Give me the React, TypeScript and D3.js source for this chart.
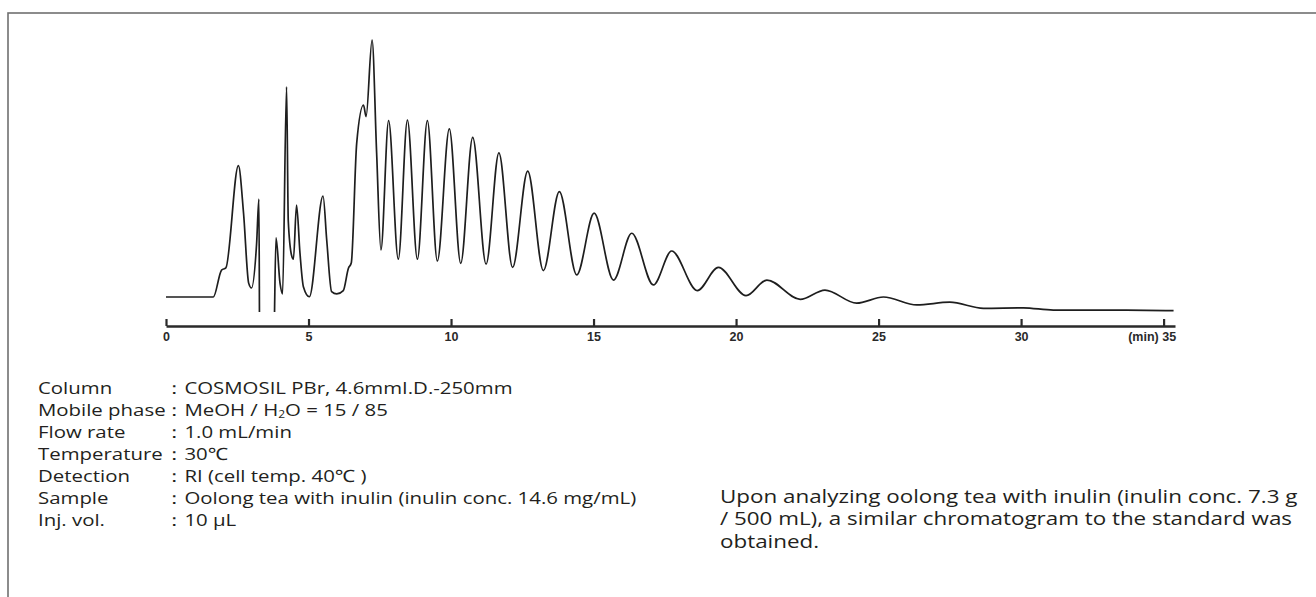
import React, { useEffect, useRef } from 'react'
import * as d3 from 'd3'

// retention time (min) and detector signal (relative units, main peak = 100)
const retentionTime = [
  0, 1.66, 1.95, 2.1, 2.54, 2.72, 2.9, 3.0, 3.18, 3.26, 3.29, 3.45, 3.65, 3.78, 3.86,
  4.0, 4.09, 4.23, 4.29, 4.41, 4.47, 4.58, 4.7, 4.82, 5.03, 5.51, 5.64, 5.81, 5.99,
  6.22, 6.4, 6.5, 6.69, 6.93, 7.02, 7.23, 7.39, 7.54,
  7.81, 8.15, 8.47, 8.82, 9.17, 9.52, 9.94, 10.34, 10.76, 11.23, 11.68, 12.16,
  12.69, 13.24, 13.8, 14.41, 15.02, 15.7, 16.34, 17.1, 17.74, 18.64, 19.38, 20.35,
  21.08, 22.25, 23.12, 24.23, 25.17, 26.34, 27.5, 28.68, 30.08, 31.13, 32.2, 33.7, 35.35,
]
const signal = [
  0, 0, 10.5, 11.3, 51.1, 32.7, 5.4, 3.5, 21.0, 38.1, -30, -30, -30, -20, 23.0,
  5.4, 1.2, 81.8, 29.6, 16.0, 14.7, 35.8, 17.1, 4.0, 0.1, 39.3, 22, 2.1, 1.2,
  2.5, 11.2, 13.2, 59.8, 74.7, 70.2, 100, 56, 18.3,
  68.6, 14.7, 68.8, 14.7, 68.6, 14.0, 65.4, 13.1, 62.1, 12.8, 56.1, 11.5,
  49.0, 10.3, 41.0, 8.6, 32.6, 6.6, 24.8, 4.7, 17.9, 2.5, 11.5, 0.5,
  6.6, -0.9, 2.7, -2.4, 0, -3.1, -2.0, -4.4, -4.2, -5.1, -5.1, -5.1, -5.3,
]

const tickValues = [0, 5, 10, 15, 20, 25, 30, 35]
const tickLabels = ['0', '5', '10', '15', '20', '25', '30', '(min) 35']

const conditionLabels = ['Column', 'Mobile phase', 'Flow rate', 'Temperature', 'Detection', 'Sample', 'Inj. vol.']
const conditionValues = [
  'COSMOSIL PBr,  4.6mmI.D.-250mm',
  'MeOH / H2O = 15 / 85',
  '1.0 mL/min',
  '30℃',
  'RI (cell temp. 40℃ )',
  'Oolong tea with inulin (inulin conc. 14.6 mg/mL)',
  '10 μL',
]
const noteLines = [
  'Upon analyzing oolong tea with inulin (inulin conc. 7.3 g',
  '/ 500 mL), a similar chromatogram to the standard was',
  'obtained.',
]

const W = 1316
const H = 597
const textFont = '"Open Sans", "Noto Sans", sans-serif'
const textColor = '#231f20'

export default function App() {
  const ref = useRef<SVGSVGElement>(null)

  useEffect(() => {
    const svg = d3.select(ref.current)
    svg.selectAll('*').remove()

    const x = d3.scaleLinear().domain([0, 35.4]).range([166, 1175])
    const y = d3.scaleLinear().domain([0, 100]).range([297, 40])

    // frame
    svg.append('rect')
      .attr('x', 8).attr('y', 13)
      .attr('width', W).attr('height', H)
      .attr('fill', 'none')
      .attr('stroke', '#707070')
      .attr('stroke-width', 1.6)

    svg.append('clipPath').attr('id', 'plot-clip')
      .append('rect').attr('x', 0).attr('y', 0).attr('width', W).attr('height', 312)

    const pts: [number, number][] = retentionTime.map((t, i) => [t, signal[i]])
    const line = d3.line<[number, number]>()
      .x(d => x(d[0]))
      .y(d => y(d[1]))
      .curve(d3.curveMonotoneX)

    svg.append('path')
      .datum(pts)
      .attr('d', line)
      .attr('fill', 'none')
      .attr('stroke', '#1e1e1e')
      .attr('stroke-width', 1.7)
      .attr('stroke-linejoin', 'round')
      .attr('clip-path', 'url(#plot-clip)')

    // time axis, ticks pointing up
    const axis = d3.axisBottom(x)
      .tickValues(tickValues)
      .tickFormat((d, i) => tickLabels[i])
      .tickSizeInner(-7)
      .tickSizeOuter(0)
      .tickPadding(6)

    const g = svg.append('g')
      .attr('transform', 'translate(0,326)')
      .call(axis)
    g.select('.domain').attr('stroke', '#2a2a2a').attr('stroke-width', 2.6)
    g.selectAll('.tick line').attr('stroke', '#2a2a2a').attr('stroke-width', 2.2)
    g.selectAll('.tick text')
      .attr('fill', '#2a2a2a')
      .style('font-family', '"Liberation Sans", Arial, sans-serif')
      .style('font-weight', 'bold')
      .style('font-size', '12.5px')
    g.selectAll('.tick text')
      .filter((d, i) => i === tickValues.length - 1)
      .attr('text-anchor', 'end')
      .attr('dx', 12)

    // conditions (widened to match the original typeface)
    const cond = svg.append('g')
      .attr('transform', 'translate(38,0) scale(1.2,1)')
      .style('font-family', textFont)
      .style('font-size', '17px')
      .attr('fill', textColor)
    conditionLabels.forEach((lab, i) => {
      const yy = 394 + i * 22
      cond.append('text').attr('x', 0).attr('y', yy).text(lab)
      cond.append('text').attr('x', 105).attr('y', yy).text('：')
      const v = cond.append('text').attr('x', 122).attr('y', yy)
      const val = conditionValues[i]
      if (val.includes('H2O')) {
        const [a, b] = val.split('H2O')
        v.append('tspan').text(a + 'H')
        v.append('tspan').attr('font-size', '10px').attr('dy', 2.5).text('2')
        v.append('tspan').attr('dy', -2.5).text('O' + b)
      } else {
        v.text(val)
      }
    })

    const note = svg.append('g')
      .attr('transform', 'translate(720,0) scale(1.28,1)')
      .style('font-family', textFont)
      .style('font-size', '17.5px')
      .attr('fill', textColor)
    noteLines.forEach((l, i) => {
      note.append('text').attr('x', 0).attr('y', 503 + i * 22.5).text(l)
    })
  }, [])

  return (
    <svg
      ref={ref}
      width={W}
      height={H}
      style={{ position: 'absolute', left: 0, top: 0, background: '#fff', overflow: 'hidden' }}
    />
  )
}
